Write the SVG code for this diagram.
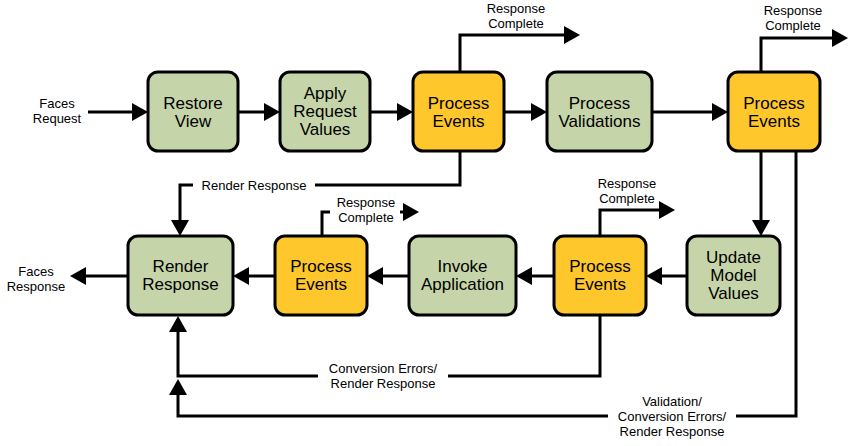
<svg xmlns="http://www.w3.org/2000/svg" width="849" height="446" viewBox="0 0 849 446">
<style>
.g{fill:#c6d5a9;stroke:#000;stroke-width:3}
.o{fill:#fec72b;stroke:#000;stroke-width:3}
.t{font-family:"Liberation Sans",Arial,sans-serif;font-size:17px;fill:#000;text-anchor:middle}
.s{font-family:"Liberation Sans",Arial,sans-serif;font-size:13px;fill:#000;text-anchor:middle}
.c{fill:none;stroke:#000;stroke-width:3;marker-end:url(#ah)}
.bg{fill:#fff}
</style>
<defs>
<marker id="ah" viewBox="0 0 16 18" markerWidth="16" markerHeight="18" refX="8" refY="9" orient="auto" markerUnits="userSpaceOnUse">
<path d="M0,0 L16,9 L0,18 z" fill="#000"/>
</marker>
</defs>
<g id="connectors">
<path class="c" d="M88,112 H140"/>
<path class="c" d="M238,112 H272"/>
<path class="c" d="M370,112 H405"/>
<path class="c" d="M504,112 H539"/>
<path class="c" d="M652,112 H720"/>
<path class="c" d="M460,72 V35 H572"/>
<path class="c" d="M761,72 V38 H840"/>
<path class="c" d="M761,151 V228"/>
<path class="c" d="M796,151 V416 H178 V387"/>
<path class="c" d="M460,151 V185 H180 V228"/>
<path class="c" d="M687,276 H654"/>
<path class="c" d="M554,276 H524"/>
<path class="c" d="M409,276 H375"/>
<path class="c" d="M275,276 H241"/>
<path class="c" d="M128,276 H78"/>
<path class="c" d="M600,236 V210 H667"/>
<path class="c" d="M322,236 V212 H411"/>
<path class="c" d="M600,315 V376 H178 V324"/>
</g>
<g id="labels">
<text class="s" x="57" y="108">Faces</text>
<text class="s" x="57" y="123">Request</text>
<text class="s" x="516" y="13">Response</text>
<text class="s" x="516" y="28">Complete</text>
<text class="s" x="793" y="15">Response</text>
<text class="s" x="793" y="30">Complete</text>
<rect class="bg" x="193" y="177" width="122" height="16"/>
<text class="s" x="254" y="190">Render Response</text>
<text class="s" x="627" y="188">Response</text>
<text class="s" x="627" y="203">Complete</text>
<rect class="bg" x="330" y="196" width="70" height="31"/>
<text class="s" x="366" y="207">Response</text>
<text class="s" x="366" y="222">Complete</text>
<text class="s" x="36" y="276">Faces</text>
<text class="s" x="36" y="291">Response</text>
<rect class="bg" x="318" y="362" width="130" height="30"/>
<text class="s" x="383" y="373">Conversion Errors/</text>
<text class="s" x="383" y="388">Render Response</text>
<rect class="bg" x="608" y="395" width="128" height="46"/>
<text class="s" x="672" y="406">Validation/</text>
<text class="s" x="672" y="421">Conversion Errors/</text>
<text class="s" x="672" y="436">Render Response</text>
</g>
<g id="restore-view"><rect class="g" x="148" y="72" width="90" height="79" rx="10"/><text class="t" x="193" y="109">Restore</text><text class="t" x="193" y="127">View</text></g>
<g id="apply-request-values"><rect class="g" x="280" y="72" width="90" height="79" rx="10"/><text class="t" x="325" y="99">Apply</text><text class="t" x="325" y="117">Request</text><text class="t" x="325" y="135">Values</text></g>
<g id="process-events-1"><rect class="o" x="413" y="72" width="91" height="79" rx="10"/><text class="t" x="458.5" y="109">Process</text><text class="t" x="458.5" y="127">Events</text></g>
<g id="process-validations"><rect class="g" x="547" y="72" width="105" height="79" rx="10"/><text class="t" x="599.5" y="109">Process</text><text class="t" x="599.5" y="127">Validations</text></g>
<g id="process-events-2"><rect class="o" x="728" y="72" width="92" height="79" rx="10"/><text class="t" x="774" y="109">Process</text><text class="t" x="774" y="127">Events</text></g>
<g id="render-response"><rect class="g" x="128" y="236" width="105" height="79" rx="10"/><text class="t" x="180.5" y="272">Render</text><text class="t" x="180.5" y="290">Response</text></g>
<g id="process-events-3"><rect class="o" x="275" y="236" width="92" height="79" rx="10"/><text class="t" x="321" y="272">Process</text><text class="t" x="321" y="290">Events</text></g>
<g id="invoke-application"><rect class="g" x="409" y="236" width="107" height="79" rx="10"/><text class="t" x="462.5" y="272">Invoke</text><text class="t" x="462.5" y="290">Application</text></g>
<g id="process-events-4"><rect class="o" x="554" y="236" width="92" height="79" rx="10"/><text class="t" x="600" y="272">Process</text><text class="t" x="600" y="290">Events</text></g>
<g id="update-model-values"><rect class="g" x="687" y="236" width="93" height="79" rx="10"/><text class="t" x="733.5" y="263">Update</text><text class="t" x="733.5" y="281">Model</text><text class="t" x="733.5" y="299">Values</text></g>
</svg>
